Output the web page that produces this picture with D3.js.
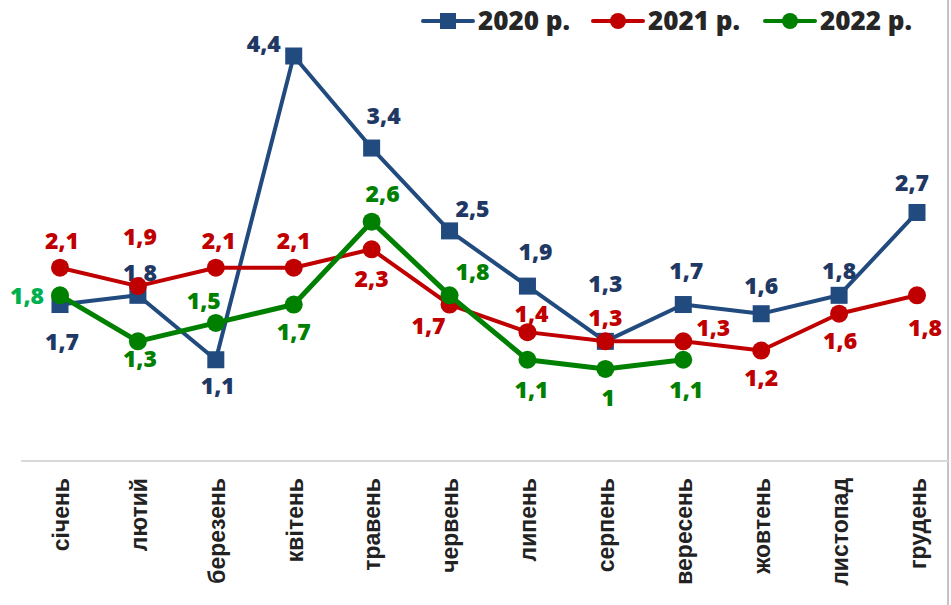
<!DOCTYPE html>
<html>
<head>
<meta charset="utf-8">
<script src="https://cdn.jsdelivr.net/npm/d3@7"></script>
<style>
  body { margin: 0; background: #fff; }
  svg { display: block; }
</style>
</head>
<body>
<div class="graphics"></div>
<script>
// data
var months = ["січень", "лютий", "березень", "квітень", "травень", "червень",
              "липень", "серпень", "вересень", "жовтень", "листопад", "грудень"];
var v2020 = [1.7, 1.8, 1.1, 4.4, 3.4, 2.5, 1.9, 1.3, 1.7, 1.6, 1.8, 2.7];
var v2021 = [2.1, 1.9, 2.1, 2.1, 2.3, 1.7, 1.4, 1.3, 1.3, 1.2, 1.6, 1.8];
var v2022 = [1.8, 1.3, 1.5, 1.7, 2.6, 1.8, 1.1, 1, 1.1];
var seriesNames = ["2020 р.", "2021 р.", "2022 р."];

// label offsets from the marker (dx, dy)
var off2020 = [[2,37],[2,-23],[2,26],[-30,-12],[12,-32],[23,-22],[8,-34],[0,-58],[3,-34],[0,-28],[0,-25],[-5,-30]];
var off2021 = [[2,-27],[2,-49],[3,-27],[0,-27],[0,29],[-21,21],[4,-18],[0,-24],[30,-14],[0,27],[1,27],[8,32]];
var off2022 = [[-33,0],[2,17],[-12,-22],[0,27],[11,-28],[23,-24],[4,30],[3,29],[3,30]];

var w = 951, h = 605;

var series = [
  {name: seriesNames[0], values: v2020, off: off2020, color: "#214a7e", text: "#1f3864", shape: "square", width: 4},
  {name: seriesNames[1], values: v2021, off: off2021, color: "#c00000", text: "#c00000", shape: "circle", width: 4},
  {name: seriesNames[2], values: v2022, off: off2022, color: "#008000", text: "#008000", shape: "circle", width: 5}
];

var x = d3.scalePoint()
  .domain(months)
  .range([60, 917]);

var y = d3.scaleLinear()
  .domain([0, 4.4])
  .range([461, 56]);

var svg = d3.select('.graphics')
  .append('svg')
  .attr("width", w)
  .attr("height", h);

// right border
svg.append("line")
  .attr("x1", 948).attr("x2", 948)
  .attr("y1", 0).attr("y2", h)
  .attr("stroke", "#c4c4c4")
  .attr("stroke-width", 2);

// x axis
var xAxis = svg.append("g")
  .attr("transform", "translate(0," + y(0) + ")")
  .call(d3.axisBottom(x).tickSize(0).tickPadding(0));

xAxis.select(".domain")
  .attr("d", "M21,0H948")
  .attr("stroke", "#d9d9d9")
  .attr("stroke-width", 2);

xAxis.selectAll(".tick text")
  .attr("transform", "rotate(-90)")
  .attr("text-anchor", "end")
  .attr("x", -17)
  .attr("y", 0)
  .attr("dy", "0.36em")
  .attr("fill", "#222")
  .style("font-family", "'Liberation Sans', Arial, sans-serif")
  .style("font-weight", "bold")
  .style("font-size", "23px");

var line = d3.line()
  .x(function(d, i){ return x(months[i]); })
  .y(function(d){ return y(d); });

series.forEach(function(s){
  var g = svg.append("g").attr("class", "series");

  g.append("path")
    .datum(s.values)
    .attr("d", line)
    .attr("fill", "none")
    .attr("stroke", s.color)
    .attr("stroke-width", s.width)
    .attr("stroke-linejoin", "round");

  if (s.shape == "square") {
    g.selectAll("rect")
      .data(s.values)
      .enter()
      .append("rect")
      .attr("x", function(d, i){ return x(months[i]) - 8.5; })
      .attr("y", function(d){ return y(d) - 8.5; })
      .attr("width", 17)
      .attr("height", 17)
      .attr("fill", s.color);
  } else {
    g.selectAll("circle")
      .data(s.values)
      .enter()
      .append("circle")
      .attr("cx", function(d, i){ return x(months[i]); })
      .attr("cy", function(d){ return y(d); })
      .attr("r", 9)
      .attr("fill", s.color);
  }

  g.selectAll("text")
    .data(s.values)
    .enter()
    .append("text")
    .attr("x", function(d, i){ return x(months[i]) + s.off[i][0]; })
    .attr("y", function(d, i){ return y(d) + s.off[i][1]; })
    .attr("dy", "0.36em")
    .attr("text-anchor", "middle")
    .attr("fill", function(d, i){
      return (s.name == "2022 р." && i == 0) ? "#00b050" : s.text;
    })
    .style("font-family", "'Open Sans', sans-serif")
    .style("font-weight", "800")
    .style("font-size", "23px")
    .text(function(d){ return String(d).replace(".", ","); });
});

// legend
var legendX = [423, 593, 765];
var legend = svg.selectAll(".legend")
  .data(series)
  .enter()
  .append("g")
  .attr("class", "legend")
  .attr("transform", function(d, i){ return "translate(" + legendX[i] + ",21)"; });

legend.append("line")
  .attr("x1", 0).attr("x2", 50)
  .attr("stroke", function(d){ return d.color; })
  .attr("stroke-width", 4)
  .attr("stroke-linecap", "round");

legend.each(function(d){
  var el = d3.select(this);
  if (d.shape == "square") {
    el.append("rect")
      .attr("x", 17).attr("y", -8)
      .attr("width", 16).attr("height", 16)
      .attr("fill", d.color);
  } else {
    el.append("circle")
      .attr("cx", 25).attr("cy", 0).attr("r", 8)
      .attr("fill", d.color);
  }
});

legend.append("text")
  .attr("x", 55)
  .attr("dy", "0.36em")
  .attr("fill", "#262626")
  .style("font-family", "'Open Sans', sans-serif")
  .style("font-weight", "800")
  .style("font-size", "26px")
  .text(function(d){ return d.name; });
</script>
</body>
</html>
